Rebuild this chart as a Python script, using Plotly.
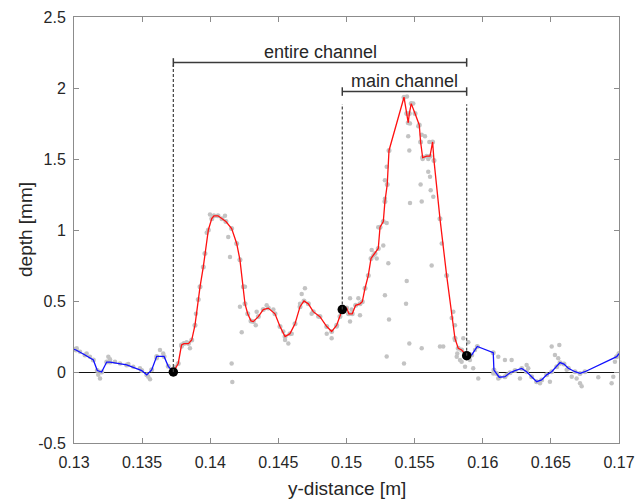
import plotly.graph_objects as go

# ---------------- data ----------------
# blue profile left of the channel
blue_left_x = [0.13000, 0.13015, 0.13081, 0.13142, 0.13171, 0.13203, 0.13240, 0.13264,
               0.13387, 0.13497, 0.13534, 0.13570, 0.13607, 0.13661, 0.13692, 0.13729]
blue_left_y = [0.16, 0.155, 0.12, 0.085, 0.01, 0.00, 0.07, 0.07,
               0.05, 0.01, -0.02, 0.015, 0.11, 0.11, 0.04, 0.0]

# red profile (channel)
red_x = [0.13729, 0.13765, 0.13789, 0.13807, 0.13840, 0.13864, 0.13888, 0.13912, 0.13925,
         0.13949, 0.13961, 0.13986, 0.14011, 0.14027, 0.14057, 0.14086, 0.14115, 0.14157,
         0.14194, 0.14218, 0.14243, 0.14255, 0.14275, 0.14299, 0.14316, 0.14353, 0.14389,
         0.14426, 0.14475, 0.14512, 0.14549, 0.14585, 0.14622, 0.14659, 0.14688, 0.14720,
         0.14756, 0.14805, 0.14855, 0.14891, 0.14928, 0.14952, 0.14969, 0.15001, 0.15018,
         0.15042, 0.15067, 0.15099, 0.15116, 0.15136, 0.15160, 0.15180, 0.15209, 0.15233,
         0.15246, 0.15270, 0.15282, 0.15299, 0.15312, 0.15422, 0.15442, 0.15453, 0.15461,
         0.15475, 0.15503, 0.15534, 0.15544, 0.15559, 0.15588, 0.15613, 0.15632, 0.15642,
         0.15686, 0.15735, 0.15796, 0.15820, 0.15845, 0.15882]
red_y = [0.0, 0.06, 0.19, 0.20, 0.20, 0.225, 0.33, 0.51, 0.60,
         0.74, 0.835, 1.0, 1.08, 1.10, 1.10, 1.08, 1.06, 1.01,
         0.905, 0.79, 0.60, 0.48, 0.41, 0.36, 0.355, 0.39, 0.44,
         0.45, 0.41, 0.32, 0.25, 0.27, 0.34, 0.46, 0.50, 0.48,
         0.425, 0.39, 0.32, 0.285, 0.33, 0.39, 0.44, 0.45, 0.41,
         0.41, 0.47, 0.48, 0.495, 0.59, 0.68, 0.80, 0.835, 0.87,
         1.02, 1.06, 1.20, 1.32, 1.56, 1.935, 1.82, 1.755, 1.82,
         1.89, 1.82, 1.74, 1.62, 1.51, 1.52, 1.52, 1.62, 1.49,
         1.08, 0.68, 0.237, 0.167, 0.155, 0.115]

# blue profile right of the channel
blue_right_x = [0.15882, 0.15919, 0.15960, 0.16077, 0.16082, 0.16102, 0.16121, 0.16163,
                0.16200, 0.16237, 0.16286, 0.16322, 0.16359, 0.16396, 0.16432, 0.16469,
                0.16506, 0.16543, 0.16567, 0.16596, 0.16628, 0.16677, 0.16714, 0.16750,
                0.16983, 0.17000]
blue_right_y = [0.115, 0.12, 0.18, 0.136, 0.014, -0.01, -0.037, -0.033,
                -0.005, 0.01, 0.025, 0.002, -0.033, -0.068, -0.056, -0.02,
                0.002, 0.037, 0.066, 0.056, 0.026, 0.002, -0.01, 0.002,
                0.108, 0.13]

# raw measurement points (grey)
raw_x = [0.13020, 0.13044, 0.13093, 0.13117, 0.13178, 0.13191, 0.13252, 0.13264, 0.13301,
         0.13338, 0.13399, 0.13435, 0.13484, 0.13545, 0.13558, 0.13607, 0.13631, 0.13655,
         0.13741, 0.13790, 0.13827, 0.13851, 0.13895, 0.13974, 0.13998, 0.14108, 0.14132,
         0.14145, 0.14157, 0.14162, 0.14218, 0.14218, 0.14231, 0.14255,
         0.14334, 0.14341, 0.14414, 0.14463, 0.14536, 0.14549, 0.14573, 0.14598, 0.14659,
         0.14671, 0.14695, 0.14744, 0.14793, 0.14855, 0.14891, 0.14928, 0.14976, 0.15013,
         0.15026, 0.15026, 0.15038, 0.15087, 0.15099,
         0.15185, 0.15197, 0.15222, 0.15233, 0.15270, 0.15282, 0.15282, 0.15282, 0.15295,
         0.15295, 0.15295, 0.15307, 0.15312, 0.15422, 0.15437, 0.15442, 0.15444, 0.15453,
         0.15461, 0.15461, 0.15466, 0.15466, 0.15490, 0.15527, 0.15544, 0.15552, 0.15552,
         0.15552, 0.15559, 0.15576, 0.15600, 0.15600, 0.15608, 0.15613, 0.15618, 0.15625,
         0.15637, 0.15686, 0.15699, 0.15710, 0.15772, 0.15784, 0.15796, 0.15796, 0.15809,
         0.15813, 0.15833, 0.15845, 0.15857, 0.15870, 0.15894, 0.15906, 0.15930, 0.15943,
         0.15967,
         0.16077, 0.16114, 0.16114, 0.16163, 0.16176, 0.16212, 0.16273, 0.16322, 0.16334,
         0.16396, 0.16420, 0.16493, 0.16506, 0.16530, 0.16554, 0.16562, 0.16567, 0.16616,
         0.16653, 0.16689, 0.16714, 0.16726, 0.16848, 0.16946, 0.16958, 0.16970, 0.16983]
raw_y = [0.167, 0.143, 0.13, 0.108, -0.02, -0.045, 0.108, 0.089, 0.073,
         0.06, 0.056, 0.037, 0.026, -0.033, -0.051, 0.097, 0.155, 0.13,
         0.037, 0.18, 0.21, 0.167, 0.41, 0.98, 1.11, 1.10, 0.95,
         0.81, 0.06, -0.07, 0.79, 0.46, 0.28, 0.60,
         0.33, 0.425, 0.47, 0.44, 0.285, 0.225, 0.20, 0.27, 0.48,
         0.55, 0.59, 0.41, 0.39, 0.27, 0.237, 0.32, 0.46, 0.41,
         0.52, 0.355, 0.44, 0.52, 0.40,
         0.86, 0.82, 0.80, 1.02, 0.89, 0.54, 1.22, 1.35, 1.05,
         0.11, 1.445, 0.765, 0.37, 0.06, 0.48, 0.64, 1.94, 1.66,
         0.20, 1.56, 1.19, 1.75, 1.89, 1.73, 1.32, 1.20, 1.67,
         0.167, 1.50, 1.66, 1.50, 1.41, 1.62, 1.375, 1.28, 0.75,
         1.235, 0.18, 0.905, 0.18, 0.38, 0.425, 0.33, 0.225, 0.108,
         0.13, 0.085, 0.073, 0.237, 0.037, 0.21, 0.085, 0.026, 0.155,
         -0.045,
         -0.01, 0.108, -0.045, 0.085, -0.02, 0.085, -0.045, 0.05, 0.026,
         -0.068, -0.08, -0.068, 0.18, 0.12, 0.097, 0.19, 0.06, 0.015,
         -0.033, -0.045, -0.08, -0.10, -0.037, -0.08, -0.033, 0.073, 0.108]

# channel boundary points (black dots)
edge_x = [0.13729, 0.14969, 0.15882]
edge_y = [0.0, 0.44, 0.115]

# annotation brackets
entire_channel = [0.13729, 0.15882]
main_channel = [0.14969, 0.15882]
entire_level = 2.18
main_level = 1.975

x_ticks = [0.13, 0.135, 0.14, 0.145, 0.15, 0.155, 0.16, 0.165, 0.17]
x_tick_labels = ["0.13", "0.135", "0.14", "0.145", "0.15", "0.155", "0.16", "0.165", "0.17"]
y_ticks = [-0.5, 0, 0.5, 1, 1.5, 2, 2.5]
y_tick_labels = ["-0.5", "0", "0.5", "1", "1.5", "2", "2.5"]
x_title = "y-distance [m]"
y_title = "depth [mm]"

# ---------------- figure ----------------
FONT = "Liberation Sans, Arial, sans-serif"
TXT = "#262626"
GREY = "#c3c3c3"
fig = go.Figure()

# grey raw points (outliers + points along the profile)
fig.add_trace(go.Scatter(x=raw_x, y=raw_y, mode="markers",
                         marker=dict(size=4.5, color=GREY), hoverinfo="skip", showlegend=False))
fig.add_trace(go.Scatter(x=blue_left_x + red_x + blue_right_x,
                         y=blue_left_y + red_y + blue_right_y, mode="markers",
                         marker=dict(size=5, color=GREY), hoverinfo="skip", showlegend=False))

# profiles
fig.add_trace(go.Scatter(x=blue_left_x, y=blue_left_y, mode="lines",
                         line=dict(color="#1010ff", width=1.3), showlegend=False))
fig.add_trace(go.Scatter(x=blue_right_x, y=blue_right_y, mode="lines",
                         line=dict(color="#1010ff", width=1.3), showlegend=False))
fig.add_trace(go.Scatter(x=red_x, y=red_y, mode="lines",
                         line=dict(color="#ff1010", width=1.3), showlegend=False))

# dashed boundary lines
dash_style = dict(color="#404040", width=1.2, dash="3px,2px")
fig.add_shape(type="line", x0=entire_channel[0], x1=entire_channel[0],
              y0=edge_y[0], y1=entire_level - 0.02, line=dash_style)
fig.add_shape(type="line", x0=main_channel[0], x1=main_channel[0],
              y0=edge_y[1], y1=main_level - 0.09, line=dash_style)
fig.add_shape(type="line", x0=main_channel[1], x1=main_channel[1],
              y0=edge_y[2], y1=main_level - 0.09, line=dash_style)

# brackets
br = dict(color="#3a3a3a", width=1.5)
cap = 0.03
for (xa, xb), lvl in [(entire_channel, entire_level), (main_channel, main_level)]:
    fig.add_shape(type="line", x0=xa, x1=xb, y0=lvl, y1=lvl, line=br)
    fig.add_shape(type="line", x0=xa, x1=xa, y0=lvl - cap, y1=lvl + cap, line=br)
    fig.add_shape(type="line", x0=xb, x1=xb, y0=lvl - cap, y1=lvl + cap, line=br)

fig.add_annotation(x=sum(entire_channel) / 2, y=entire_level + 0.075, text="entire channel",
                   showarrow=False, font=dict(family=FONT, size=18, color=TXT),
                   yanchor="middle")
fig.add_annotation(x=sum(main_channel) / 2, y=main_level + 0.075, text="main channel",
                   showarrow=False, font=dict(family=FONT, size=18, color=TXT),
                   yanchor="middle")

# axis titles as annotations (precise placement)
fig.add_annotation(xref="paper", yref="paper", x=0.5, y=0, yshift=-33, text=x_title,
                   showarrow=False, xanchor="center", yanchor="top",
                   font=dict(family=FONT, size=19, color=TXT))
fig.add_annotation(xref="paper", yref="paper", x=0, y=0.5, xshift=-49, text=y_title,
                   textangle=-90, showarrow=False, xanchor="center", yanchor="middle",
                   font=dict(family=FONT, size=19, color=TXT))

# black edge dots
fig.add_trace(go.Scatter(x=edge_x, y=edge_y, mode="markers",
                         marker=dict(size=9.5, color="black"), showlegend=False, cliponaxis=False))

axis_common = dict(showgrid=False, showline=True, linecolor="#8c8c8c", linewidth=1,
                   mirror="ticks", ticks="inside", ticklen=5, tickcolor="#8c8c8c",
                   automargin=False,
                   tickfont=dict(family=FONT, size=16, color=TXT))

fig.update_xaxes(range=[0.13, 0.17], tickvals=x_ticks, ticktext=x_tick_labels,
                 zeroline=False, ticklabelstandoff=5, **axis_common)
fig.update_yaxes(range=[-0.5, 2.5], tickvals=y_ticks, ticktext=y_tick_labels,
                 zeroline=True, zerolinecolor="#111111", zerolinewidth=1.3,
                 ticklabelstandoff=4, **axis_common)

# page body has an 8px margin, so the figure is placed at (8, 8) in the window
fig.update_layout(width=628, height=491, margin=dict(l=66, r=17, t=9, b=56),
                  plot_bgcolor="white", paper_bgcolor="white", showlegend=False,
                  font=dict(family=FONT))

fig.write_html("out.html")
